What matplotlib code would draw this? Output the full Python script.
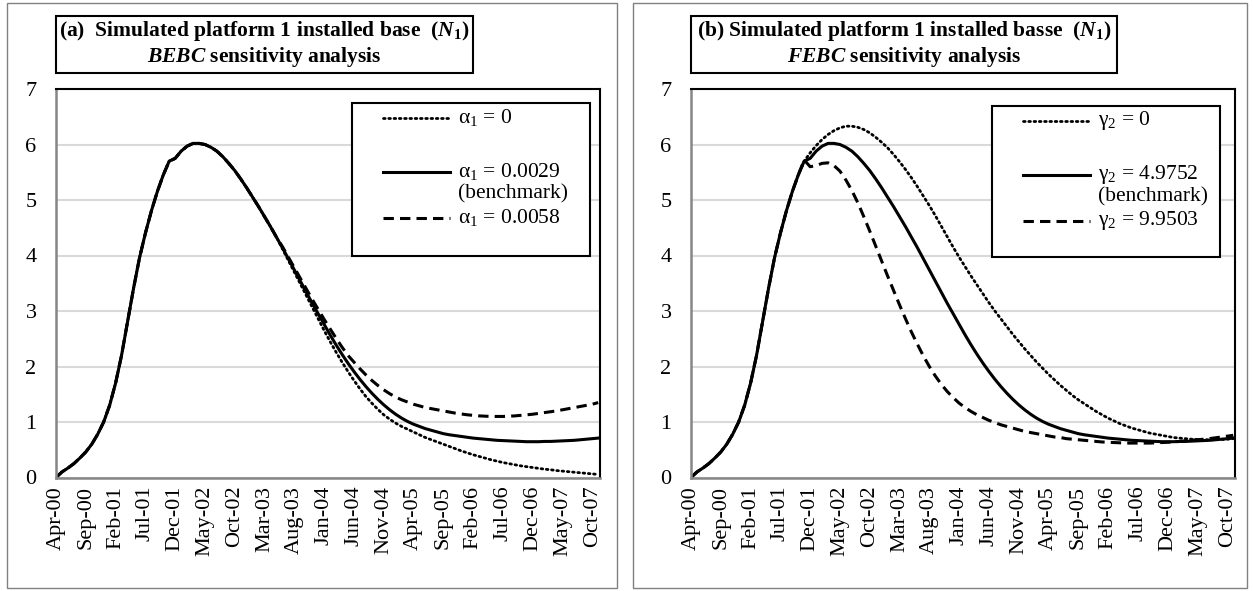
import numpy as np
import matplotlib.pyplot as plt
from matplotlib.patches import Rectangle
from matplotlib.lines import Line2D

plt.rcParams['font.family'] = ['Liberation Serif', 'DejaVu Serif']
plt.rcParams['mathtext.fontset'] = 'custom'
plt.rcParams['mathtext.rm'] = 'Liberation Serif'
plt.rcParams['mathtext.it'] = 'Liberation Serif:bold:italic'
plt.rcParams['mathtext.bf'] = 'Liberation Serif:bold'

# monthly, Apr-00 .. Nov-07 (92 months), every 5th month labelled
tick_labels = ['Apr-00', 'Sep-00', 'Feb-01', 'Jul-01', 'Dec-01', 'May-02', 'Oct-02',
               'Mar-03', 'Aug-03', 'Jan-04', 'Jun-04', 'Nov-04', 'Apr-05', 'Sep-05',
               'Feb-06', 'Jul-06', 'Dec-06', 'May-07', 'Oct-07']

# benchmark run (alpha1 = 0.0029, gamma2 = 4.9752)
benchmark = [0.0, 0.10, 0.17, 0.25, 0.35, 0.46, 0.60, 0.78, 1.00, 1.30,
             1.70, 2.20, 2.80, 3.40, 3.95, 4.40, 4.80, 5.15, 5.45, 5.70,
             5.75, 5.88, 5.97, 6.02, 6.02, 6.00, 5.95, 5.88, 5.78, 5.66,
             5.53, 5.38, 5.22, 5.05, 4.88, 4.70, 4.52, 4.33, 4.14, 3.94,
             3.74, 3.54, 3.34, 3.14, 2.95, 2.76, 2.57, 2.39, 2.22, 2.06,
             1.91, 1.77, 1.64, 1.52, 1.41, 1.31, 1.22, 1.14, 1.07, 1.01,
             0.96, 0.92, 0.88, 0.85, 0.82, 0.79, 0.77, 0.755, 0.74, 0.725,
             0.71, 0.70, 0.69, 0.68, 0.67, 0.665, 0.66, 0.655, 0.65, 0.645,
             0.645, 0.645, 0.65, 0.65, 0.655, 0.66, 0.665, 0.67, 0.68, 0.69,
             0.70, 0.71]

# (a) BEBC runs, identical to benchmark until Jun-03 (month 38)
alpha_split = 38
alpha_zero_tail = [4.12, 3.91, 3.70, 3.49, 3.28, 3.07, 2.86, 2.65, 2.45, 2.26,
                   2.08, 1.91, 1.75, 1.60, 1.46, 1.34, 1.23, 1.13, 1.05, 0.98,
                   0.92, 0.87, 0.82, 0.77, 0.72, 0.68, 0.64, 0.60, 0.56, 0.52,
                   0.48, 0.445, 0.41, 0.38, 0.35, 0.32, 0.295, 0.27, 0.25, 0.23,
                   0.21, 0.195, 0.18, 0.165, 0.15, 0.14, 0.125, 0.115, 0.105, 0.095,
                   0.085, 0.075, 0.065, 0.055]
alpha_high_tail = [4.16, 3.97, 3.78, 3.59, 3.40, 3.21, 3.03, 2.85, 2.68, 2.51,
                   2.35, 2.20, 2.08, 1.96, 1.85, 1.75, 1.66, 1.58, 1.51, 1.45,
                   1.40, 1.36, 1.32, 1.29, 1.26, 1.24, 1.22, 1.20, 1.18, 1.16,
                   1.145, 1.13, 1.12, 1.11, 1.105, 1.10, 1.10, 1.10, 1.105,
                   1.11, 1.12, 1.13, 1.14, 1.155, 1.17, 1.185, 1.20, 1.22, 1.24,
                   1.26, 1.28, 1.30, 1.32, 1.35]

# (b) FEBC runs, identical to benchmark until Nov-01 (month 19)
gamma_split = 19
gamma_zero_tail = [5.70, 5.85, 5.98, 6.09, 6.18, 6.25, 6.30, 6.33, 6.33, 6.31,
                   6.27, 6.21, 6.13, 6.04, 5.94, 5.82, 5.69, 5.55, 5.40, 5.24,
                   5.07, 4.90, 4.72, 4.53, 4.34, 4.15, 3.97, 3.80, 3.63, 3.47,
                   3.31, 3.15, 3.00, 2.86, 2.72, 2.58, 2.45, 2.32, 2.20, 2.08,
                   1.97, 1.86, 1.76, 1.66, 1.57, 1.48, 1.40, 1.33, 1.26, 1.19,
                   1.13, 1.07, 1.02, 0.97, 0.93, 0.89, 0.86, 0.83, 0.80, 0.78,
                   0.76, 0.74, 0.72, 0.71, 0.70, 0.69, 0.685, 0.68, 0.68, 0.68,
                   0.685, 0.69, 0.70]
gamma_high_tail = [5.72, 5.60, 5.62, 5.66, 5.67, 5.62, 5.52, 5.36, 5.17, 4.95,
                   4.70, 4.44, 4.17, 3.90, 3.63, 3.37, 3.11, 2.86, 2.62, 2.40,
                   2.19, 2.00, 1.83, 1.68, 1.55, 1.44, 1.34, 1.26, 1.19, 1.13,
                   1.08, 1.03, 0.99, 0.95, 0.92, 0.89, 0.86, 0.83, 0.81, 0.79,
                   0.77, 0.75, 0.73, 0.72, 0.70, 0.69, 0.68, 0.67, 0.66, 0.65,
                   0.64, 0.635, 0.63, 0.625, 0.62, 0.62, 0.62, 0.62, 0.62, 0.625,
                   0.63, 0.635, 0.64, 0.65, 0.66, 0.67, 0.68, 0.69, 0.70, 0.715,
                   0.73, 0.745, 0.76]

alpha_labels = ['α$_1$ = 0', 'α$_1$ = 0.0029', 'α$_1$ = 0.0058']
gamma_labels = ['γ$_2$ = 0', 'γ$_2$ = 4.9752', 'γ$_2$ = 9.9503']

panels = [
    dict(series=[benchmark[:alpha_split] + alpha_zero_tail, benchmark,
                 benchmark[:alpha_split] + alpha_high_tail],
         labels=alpha_labels,
         title=['(a)  Simulated platform 1 installed base  ($\\mathit{N}_\\mathbf{1}$)',
                '$\\mathit{BEBC}$ sensitivity analysis'],
         frame=(7, 617), plot=(56, 600), tbox=(56, 473), lbox=(352, 590, 103, 256)),
    dict(series=[benchmark[:gamma_split] + gamma_zero_tail, benchmark,
                 benchmark[:gamma_split] + gamma_high_tail],
         labels=gamma_labels,
         title=['(b) Simulated platform 1 installed basse  ($\\mathit{N}_\\mathbf{1}$)',
                '$\\mathit{FEBC}$ sensitivity analysis'],
         frame=(633, 1247), plot=(691, 1235), tbox=(691, 1117), lbox=(992, 1220, 106, 257)),
]

styles = [dict(ls=(0, (0.6, 1.3)), lw=2.0, dash_capstyle='round'),
          dict(ls='-', lw=2.2),
          dict(ls=(0, (3.4, 2.0)), lw=2.2)]

W, H = 1253, 591
fig = plt.figure(figsize=(W / 100, H / 100), dpi=100)
top, bot = 89, 477.5

for p in panels:
    fx0, fx1 = p['frame']
    fig.add_artist(Rectangle((fx0 / W, 3 / H), (fx1 - fx0) / W, 585 / H, transform=fig.transFigure,
                             fill=False, ec='#808080', lw=1))
    tx0, tx1 = p['tbox']
    fig.add_artist(Rectangle((tx0 / W, 1 - 73 / H), (tx1 - tx0) / W, 57 / H, transform=fig.transFigure,
                             fill=False, ec='black', lw=1.5))
    fig.text((tx0 + tx1) / 2 / W, 1 - 31 / H, p['title'][0], ha='center', va='center',
             fontsize=15.5, fontweight='bold')
    fig.text((tx0 + tx1) / 2 / W, 1 - 57 / H, p['title'][1], ha='center', va='center',
             fontsize=15.5, fontweight='bold')

    px0, px1 = p['plot']
    ax = fig.add_axes([px0 / W, 1 - bot / H, (px1 - px0) / W, (bot - top) / H])
    x = np.arange(len(benchmark))
    for ys, st in zip(p['series'], styles):
        ax.plot(x, ys, color='black', **st)
    ax.set_xlim(0, len(benchmark) - 0.7)
    ax.set_ylim(0, 7)
    ax.set_yticks(range(8))
    ax.set_xticks(np.arange(len(tick_labels)) * 5)
    ax.set_xticklabels(tick_labels, rotation=90)
    ax.tick_params(length=0, labelsize=16, pad=6)
    ax.tick_params(axis='y', pad=14)
    ax.grid(axis='y', color='#d9d9d9', lw=1.5)
    ax.set_axisbelow(True)
    for s in ['top', 'right']:
        ax.spines[s].set_color('black')
        ax.spines[s].set_linewidth(1.5)
    for s in ['left', 'bottom']:
        ax.spines[s].set_color('#868686')
        ax.spines[s].set_linewidth(1.8)

    # legend box
    lx0, lx1, ly0, ly1 = p['lbox']
    fx = lambda v: (v - px0) / (px1 - px0)
    fy = lambda v: 1 - (v - top) / (bot - top)
    ax.add_patch(Rectangle((fx(lx0), fy(ly1)), fx(lx1) - fx(lx0), fy(ly0) - fy(ly1),
                           transform=ax.transAxes, fc='white', ec='black', lw=1.5, zorder=5))
    hx0, hx1 = lx0 + 31, lx0 + 98
    rows = [ly0 + 15, ly0 + 69, ly0 + 115]
    for r, lab, st in zip(rows, p['labels'], styles):
        ax.add_line(Line2D([fx(hx0), fx(hx1)], [fy(r), fy(r)], transform=ax.transAxes,
                           color='black', zorder=6, **st))
        ax.text(fx(hx1 + 8), fy(r), lab, transform=ax.transAxes, va='center', fontsize=15.5, zorder=6)
    ax.text(fx(hx1 + 8), fy(rows[1] + 22), '(benchmark)', transform=ax.transAxes,
            va='center', fontsize=15.5, zorder=6)

fig.savefig('out.png', dpi=100)
